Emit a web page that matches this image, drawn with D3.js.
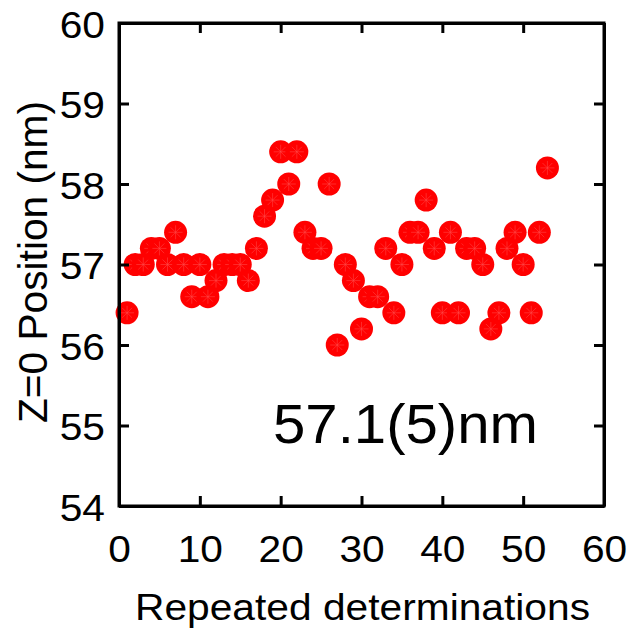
<!DOCTYPE html>
<html><head><meta charset="utf-8">
<script src="https://cdn.jsdelivr.net/npm/d3@7"></script>
<style>body{margin:0;background:#fff}svg{display:block}</style>
</head><body>
<script>
const xValues = [1,2,3,4,5,6,7,8,9,10,11,12,13,14,15,16,17,18,19,20,21,22,23,24,25,26,27,28,29,30,31,32,33,34,35,36,37,38,39,40,41,42,43,44,45,46,47,48,49,50,51,52,53];
const yValues = [56.4,57.0,57.0,57.2,57.2,57.0,57.4,57.0,56.6,57.0,56.6,56.8,57.0,57.0,57.0,56.8,57.2,57.6,57.8,58.4,58.0,58.4,57.4,57.2,57.2,58.0,56.0,57.0,56.8,56.2,56.6,56.6,57.2,56.4,57.0,57.4,57.4,57.8,57.2,56.4,57.4,56.4,57.2,57.2,57.0,56.2,56.4,57.2,57.4,57.0,56.4,57.4,58.2];
const xTicks = [0,10,20,30,40,50,60];
const yTicks = [54,55,56,57,58,59,60];
const annotation = "57.1(5)nm";

const W = 629, H = 631;
const L = 119, R = 604, T = 23, B = 506;
const svg = d3.select("body").append("svg").attr("width", W).attr("height", H);
const x = d3.scaleLinear().domain([0,60]).range([L,R]);
const y = d3.scaleLinear().domain([54,60]).range([B,T]);
const font = "'Liberation Sans', Arial, sans-serif";

// points
const g = svg.append("g");
const data = xValues.map((v,i)=>({x:v,y:yValues[i]}));
const pts = g.selectAll("g.p").data(data).join("g")
  .attr("transform", d=>`translate(${x(d.x)},${y(d.y)})`);
pts.append("circle").attr("r", 11.5).attr("fill", "#ff0000");
const rays = d3.range(8).map(i=>i*Math.PI/4);
pts.selectAll("line").data(rays).join("line")
  .attr("x1",0).attr("y1",0)
  .attr("x2",a=>Math.cos(a)*7).attr("y2",a=>Math.sin(a)*7)
  .attr("stroke","#ff5050").attr("stroke-width",0.5);

// axes
const tickLen = 10;
const axB = svg.append("g").attr("transform",`translate(0,${B})`)
  .call(d3.axisBottom(x).tickValues(xTicks).tickSizeInner(-tickLen).tickSizeOuter(0).tickPadding(30).tickFormat(d3.format("d")));
const axT = svg.append("g").attr("transform",`translate(0,${T})`)
  .call(d3.axisTop(x).tickValues(xTicks).tickSizeInner(-tickLen).tickSizeOuter(0).tickFormat(""));
const axL = svg.append("g").attr("transform",`translate(${L},0)`)
  .call(d3.axisLeft(y).tickValues(yTicks).tickSizeInner(-tickLen).tickSizeOuter(0).tickPadding(14).tickFormat(d3.format("d")));
const axR = svg.append("g").attr("transform",`translate(${R},0)`)
  .call(d3.axisRight(y).tickValues(yTicks).tickSizeInner(-tickLen).tickSizeOuter(0).tickFormat(""));
[axB,axT,axL,axR].forEach(a=>{
  a.select(".domain").attr("stroke","#000").attr("stroke-width",3);
  a.selectAll(".tick line").attr("stroke","#000").attr("stroke-width",3);
  a.selectAll(".tick text").attr("font-family",font).attr("font-size",37).attr("fill","#000");
});
axB.selectAll(".tick text").attr("dy","0.71em");
axL.selectAll(".tick text").attr("dy","0.38em");
// slight horizontal widening like the reference
svg.selectAll(".tick text").each(function(){
  const t = d3.select(this); if (!t.text()) return;
  const w = this.getComputedTextLength();
  t.attr("textLength", w*1.1).attr("lengthAdjust","spacingAndGlyphs");
});
// frame
svg.append("rect").attr("x",L).attr("y",T).attr("width",R-L).attr("height",B-T)
  .attr("fill","none").attr("stroke","#000").attr("stroke-width",3);

// titles
svg.append("text").attr("x",(L+R)/2 + 1).attr("y",620).attr("text-anchor","middle")
  .attr("font-family",font).attr("font-size",36)
  .attr("textLength",455).attr("lengthAdjust","spacingAndGlyphs")
  .text("Repeated determinations");
svg.append("text").attr("transform",`translate(47,262) rotate(-90)`).attr("text-anchor","middle")
  .attr("font-family",font).attr("font-size",41)
  .attr("textLength",322).attr("lengthAdjust","spacingAndGlyphs")
  .text("Z=0 Position (nm)");
svg.append("text").attr("x",273).attr("y",443).attr("text-anchor","start")
  .attr("font-family",font).attr("font-size",56)
  .attr("textLength",265).attr("lengthAdjust","spacingAndGlyphs")
  .text(annotation);
</script>
</body></html>
